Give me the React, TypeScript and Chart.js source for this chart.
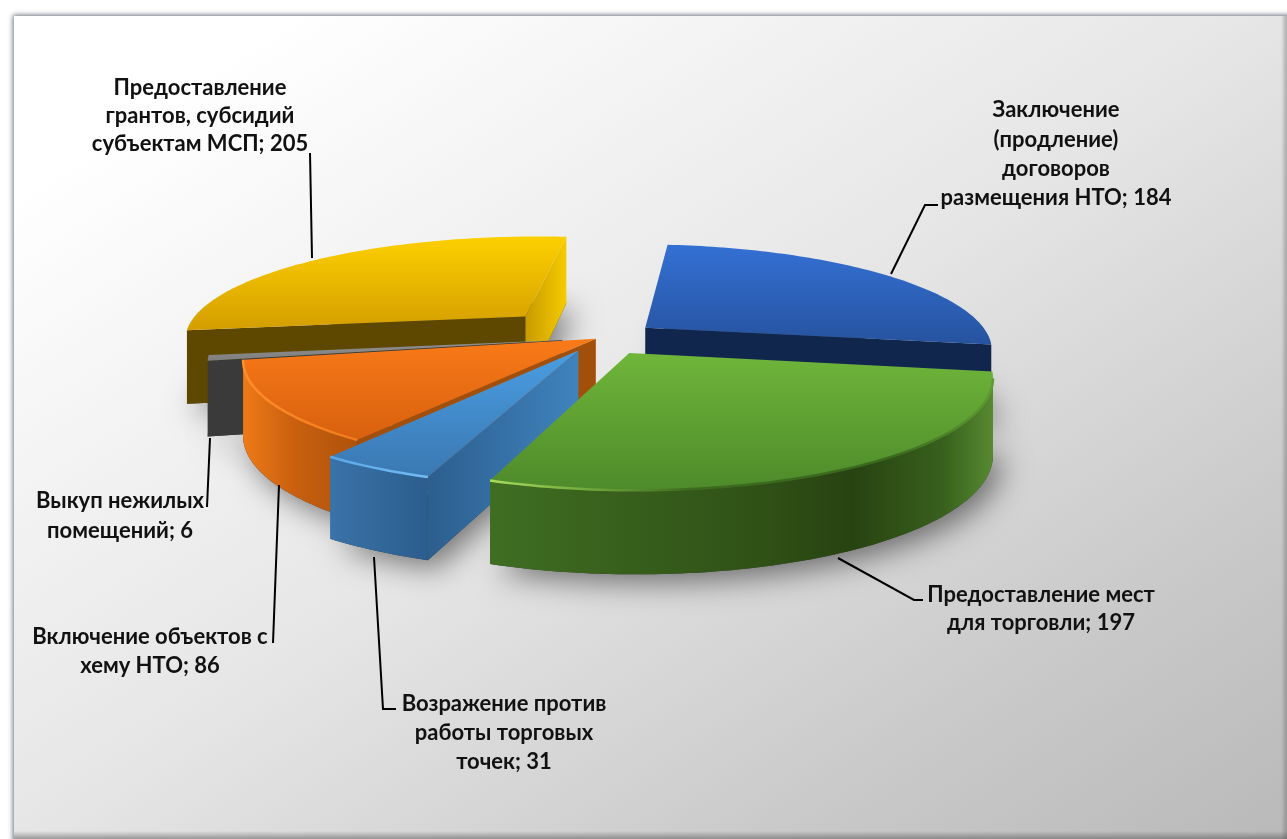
import React, { useEffect, useRef } from "react";
import { Chart, registerables } from "chart.js";

Chart.register(...registerables);

const categories = [
  "Заключение (продление) договоров размещения НТО",
  "Предоставление мест для торговли",
  "Возражение против работы торговых точек",
  "Включение объектов с хему НТО",
  "Выкуп нежилых помещений",
  "Предоставление грантов, субсидий субъектам МСП",
];
const values = [184, 197, 31, 86, 6, 205];
const explode = [58, 56, 46, 5, 38, 108];
const labelLines = [
  ["Заключение", "(продление)", "договоров", "размещения НТО"],
  ["Предоставление мест", "для торговли"],
  ["Возражение против", "работы торговых", "точек"],
  ["Включение объектов с", "хему НТО"],
  ["Выкуп нежилых", "помещений"],
  ["Предоставление", "грантов, субсидий", "субъектам МСП"],
];

const W = 1287;
const H = 839;
const PERSPECTIVE = 1745;
const TILT = 0.3;
const DEPTH = 74;
const DRAW_ORDER = [5, 0, 4, 3, 2, 1];

type Stops = [number, string][];
const STYLES: { top: [string, string]; start: Stops; end: Stops; outer: Stops; rim?: Stops }[] = [
  { top: ["#3470d4", "#26539f"], start: [[0, "#10264c"], [1, "#10264c"]], end: [[0, "#10264c"], [1, "#10264c"]], outer: [[0, "#12284f"], [1, "#1d3a70"]], rim: [[0, "#2b5cae"], [1, "#2b5cae"]] },
  { top: ["#6fb63a", "#4e8a2a"], start: [[0, "#3f6e22"], [1, "#3f6e22"]], end: [[0, "#3f6e22"], [1, "#3f6e22"]], outer: [[0, "#3f6e22"], [0.55, "#2f5016"], [0.72, "#274311"], [0.9, "#38601d"], [1, "#568a30"]], rim: [[0, "#a8dc5e"], [0.2, "#6fa83a"], [0.4, "#3c6a20"], [0.8, "#3a6a1e"], [1, "#5f9a32"]] },
  { top: ["#4a9de2", "#3a78b2"], start: [[0, "#2c5e8e"], [1, "#3f83bd"]], end: [[0, "#2c5e8e"], [1, "#3f83bd"]], outer: [[0, "#3a73a8"], [1, "#2b5d8d"]], rim: [[0, "#5aa6e6"], [1, "#74bcf4"]] },
  { top: ["#f97a17", "#d8600f"], start: [[0, "#a34f0c"], [1, "#a34f0c"]], end: [[0, "#a34f0c"], [1, "#a34f0c"]], outer: [[0, "#ee7a17"], [0.45, "#c9600f"], [1, "#ae520b"]], rim: [[0, "#ff8e2c"], [1, "#f07a1c"]] },
  { top: ["#909090", "#808080"], start: [[0, "#3a3a3a"], [1, "#3a3a3a"]], end: [[0, "#3a3a3a"], [1, "#3a3a3a"]], outer: [[0, "#3a3a3a"], [1, "#3a3a3a"]] },
  { top: ["#fdd000", "#d49e00"], start: [[0, "#5e4800"], [1, "#5e4800"]], end: [[0, "#c99a00"], [1, "#f5cc00"]], outer: [[0, "#5e4800"], [1, "#5e4800"]] },
];

const LABEL_POS: [number, number[]][] = [
  [1056, [110, 140, 169, 198]],
  [1041, [595, 623]],
  [504, [704, 733, 762]],
  [150, [637, 666]],
  [120, [501, 531]],
  [200, [88, 116, 144]],
];
const LEADERS: number[][][] = [
  [[891, 274], [925, 205], [938, 205]],
  [[838, 558], [914, 600], [923, 600]],
  [[374, 557], [383, 709], [396, 709]],
  [[279, 485], [273, 643]],
  [[210, 438], [207, 507]],
  [[312, 258], [310, 153]],
];

type P = { x: number; y: number };

function linear(ctx: CanvasRenderingContext2D, x0: number, x1: number, stops: Stops) {
  const g = ctx.createLinearGradient(x0, 0, Math.max(x1, x0 + 1), 0);
  stops.forEach(([o, c]) => g.addColorStop(o, c));
  return g;
}

function wall(ctx: CanvasRenderingContext2D, top: P[], bottom: P[], stops: Stops) {
  if (top.length < 2) return;
  const xs = top.concat(bottom).map((p) => p.x);
  const fill = linear(ctx, Math.min(...xs), Math.max(...xs), stops);
  ctx.beginPath();
  top.forEach((p, i) => (i ? ctx.lineTo(p.x, p.y) : ctx.moveTo(p.x, p.y)));
  bottom.slice().reverse().forEach((p) => ctx.lineTo(p.x, p.y));
  ctx.closePath();
  ctx.fillStyle = fill;
  ctx.fill();
}

const pie3d = {
  id: "pie3d",
  beforeDraw(chart: any) {
    const ctx: CanvasRenderingContext2D = chart.ctx;
    ctx.save();
    ctx.fillStyle = "#ffffff";
    ctx.fillRect(0, 0, W, H);
    ctx.shadowColor = "rgba(90,100,110,0.9)";
    ctx.shadowBlur = 5;
    ctx.shadowOffsetX = -1;
    ctx.shadowOffsetY = -1;
    const g = ctx.createLinearGradient(0, 0, 768, 1178);
    g.addColorStop(0, "#ffffff");
    g.addColorStop(0.12, "#ffffff");
    g.addColorStop(0.5, "#e6e6e6");
    g.addColorStop(0.8, "#c9c9c9");
    g.addColorStop(1, "#b9b9b9");
    ctx.fillStyle = g;
    ctx.fillRect(14, 16, W + 20, H + 20);
    ctx.restore();
    ctx.save();
    const edge = ctx.createLinearGradient(0, H - 8, 0, H);
    edge.addColorStop(0, "rgba(90,90,90,0)");
    edge.addColorStop(1, "rgba(90,90,90,0.55)");
    ctx.fillStyle = edge;
    ctx.fillRect(14, H - 8, W, 8);
    const edge2 = ctx.createLinearGradient(W - 6, 0, W, 0);
    edge2.addColorStop(0, "rgba(90,90,90,0)");
    edge2.addColorStop(1, "rgba(90,90,90,0.4)");
    ctx.fillStyle = edge2;
    ctx.fillRect(W - 6, 16, 6, H);
    ctx.restore();
  },
  beforeDatasetsDraw(chart: any) {
    const ctx: CanvasRenderingContext2D = chart.ctx;
    const arcs = chart.getDatasetMeta(0).data;
    const geo = arcs.map((arc: any) => {
      const { x, y, startAngle, endAngle, outerRadius } = arc.getProps(["x", "y", "startAngle", "endAngle", "outerRadius"]);
      const off = arc.options.offset || 0;
      const mid = (startAngle + endAngle) / 2;
      const ox = off * Math.cos(mid);
      const oy = off * Math.sin(mid);
      const project = (X: number, Y: number, z: number): P => {
        const gx = X + ox;
        const gy = Y + oy;
        const f = PERSPECTIVE / (PERSPECTIVE - gy);
        return { x: x + gx * f, y: y + gy * TILT * f + z * Math.sqrt(f) };
      };
      const n = Math.max(2, Math.ceil((endAngle - startAngle) / 0.02));
      const angles = Array.from({ length: n + 1 }, (_, i) => startAngle + ((endAngle - startAngle) * i) / n);
      const pts = (z: number) => angles.map((a) => project(outerRadius * Math.cos(a), outerRadius * Math.sin(a), z));
      return { apexT: project(0, 0, 0), apexB: project(0, 0, DEPTH), top: pts(0), bottom: pts(DEPTH) };
    });

    // soft floor shadow
    ctx.save();
    ctx.shadowColor = "rgba(0,0,0,0.5)";
    ctx.shadowBlur = 30;
    ctx.shadowOffsetX = 8;
    ctx.shadowOffsetY = 8;
    ctx.fillStyle = "rgba(60,60,60,1)";
    geo.forEach((g: any) => {
      ctx.beginPath();
      ctx.moveTo(g.apexB.x, g.apexB.y);
      g.bottom.forEach((p: P) => ctx.lineTo(p.x, p.y));
      ctx.closePath();
      ctx.fill();
    });
    ctx.restore();

    DRAW_ORDER.forEach((i) => {
      const g = geo[i];
      const s = STYLES[i];
      const last = g.top.length - 1;
      if (g.top[0].x < g.apexT.x) wall(ctx, [g.apexT, g.top[0]], [g.apexB, g.bottom[0]], s.start);
      if (g.apexT.x < g.top[last].x) wall(ctx, [g.top[last], g.apexT], [g.bottom[last], g.apexB], s.end);
      const tp: P[] = [];
      const bt: P[] = [];
      for (let k = 0; k < last; k++) {
        if (g.top[k + 1].x < g.top[k].x) {
          if (!tp.length) {
            tp.push(g.top[k]);
            bt.push(g.bottom[k]);
          }
          tp.push(g.top[k + 1]);
          bt.push(g.bottom[k + 1]);
        }
      }
      wall(ctx, tp, bt, s.outer);
      const ys = g.top.map((p: P) => p.y).concat(g.apexT.y);
      const grad = ctx.createLinearGradient(0, Math.min(...ys), 0, Math.max(...ys));
      grad.addColorStop(0, s.top[0]);
      grad.addColorStop(1, s.top[1]);
      ctx.beginPath();
      ctx.moveTo(g.apexT.x, g.apexT.y);
      g.top.forEach((p: P) => ctx.lineTo(p.x, p.y));
      ctx.closePath();
      ctx.fillStyle = grad;
      ctx.fill();
      if (s.rim && tp.length > 1) {
        const xs = tp.map((p) => p.x);
        ctx.beginPath();
        tp.forEach((p, k) => (k ? ctx.lineTo(p.x, p.y) : ctx.moveTo(p.x, p.y)));
        ctx.strokeStyle = linear(ctx, Math.min(...xs), Math.max(...xs), s.rim);
        ctx.lineWidth = 2.5;
        ctx.stroke();
      }
    });
    return false;
  },
  afterDraw(chart: any) {
    const ctx: CanvasRenderingContext2D = chart.ctx;
    ctx.save();
    ctx.strokeStyle = "#000000";
    ctx.lineWidth = 2;
    LEADERS.forEach((line) => {
      ctx.beginPath();
      line.forEach(([x, y], i) => (i ? ctx.lineTo(x, y) : ctx.moveTo(x, y)));
      ctx.stroke();
    });
    ctx.fillStyle = "#111111";
    ctx.font = 'bold 22px Lato, "Open Sans", sans-serif';
    ctx.textAlign = "center";
    ctx.textBaseline = "middle";
    labelLines.forEach((lines, i) => {
      const [cx, ys] = LABEL_POS[i];
      lines.forEach((t, j) => {
        const text = j === lines.length - 1 ? `${t}; ${values[i]}` : t;
        ctx.fillText(text, cx, ys[j]);
      });
    });
    ctx.restore();
  },
};

export default function App() {
  const ref = useRef<HTMLCanvasElement>(null);
  useEffect(() => {
    const chart = new Chart(ref.current!, {
      type: "pie",
      data: {
        labels: categories,
        datasets: [
          {
            data: values,
            offset: explode,
            radius: 345,
            backgroundColor: STYLES.map((s) => s.top[0]),
            borderWidth: 0,
          } as any,
        ],
      },
      options: {
        responsive: false,
        animation: false,
        devicePixelRatio: 1,
        rotation: 6,
        layout: { padding: { left: 0, top: 0, right: 87, bottom: 163 } },
        plugins: { legend: { display: false }, tooltip: { enabled: false }, title: { display: false } },
      },
      plugins: [pie3d],
    } as any);
    return () => chart.destroy();
  }, []);
  return (
    <div style={{ position: "fixed", left: 0, top: 0, width: W, height: H, overflow: "hidden" }}>
      <canvas ref={ref} width={W} height={H} style={{ display: "block", width: W, height: H }} />
    </div>
  );
}
